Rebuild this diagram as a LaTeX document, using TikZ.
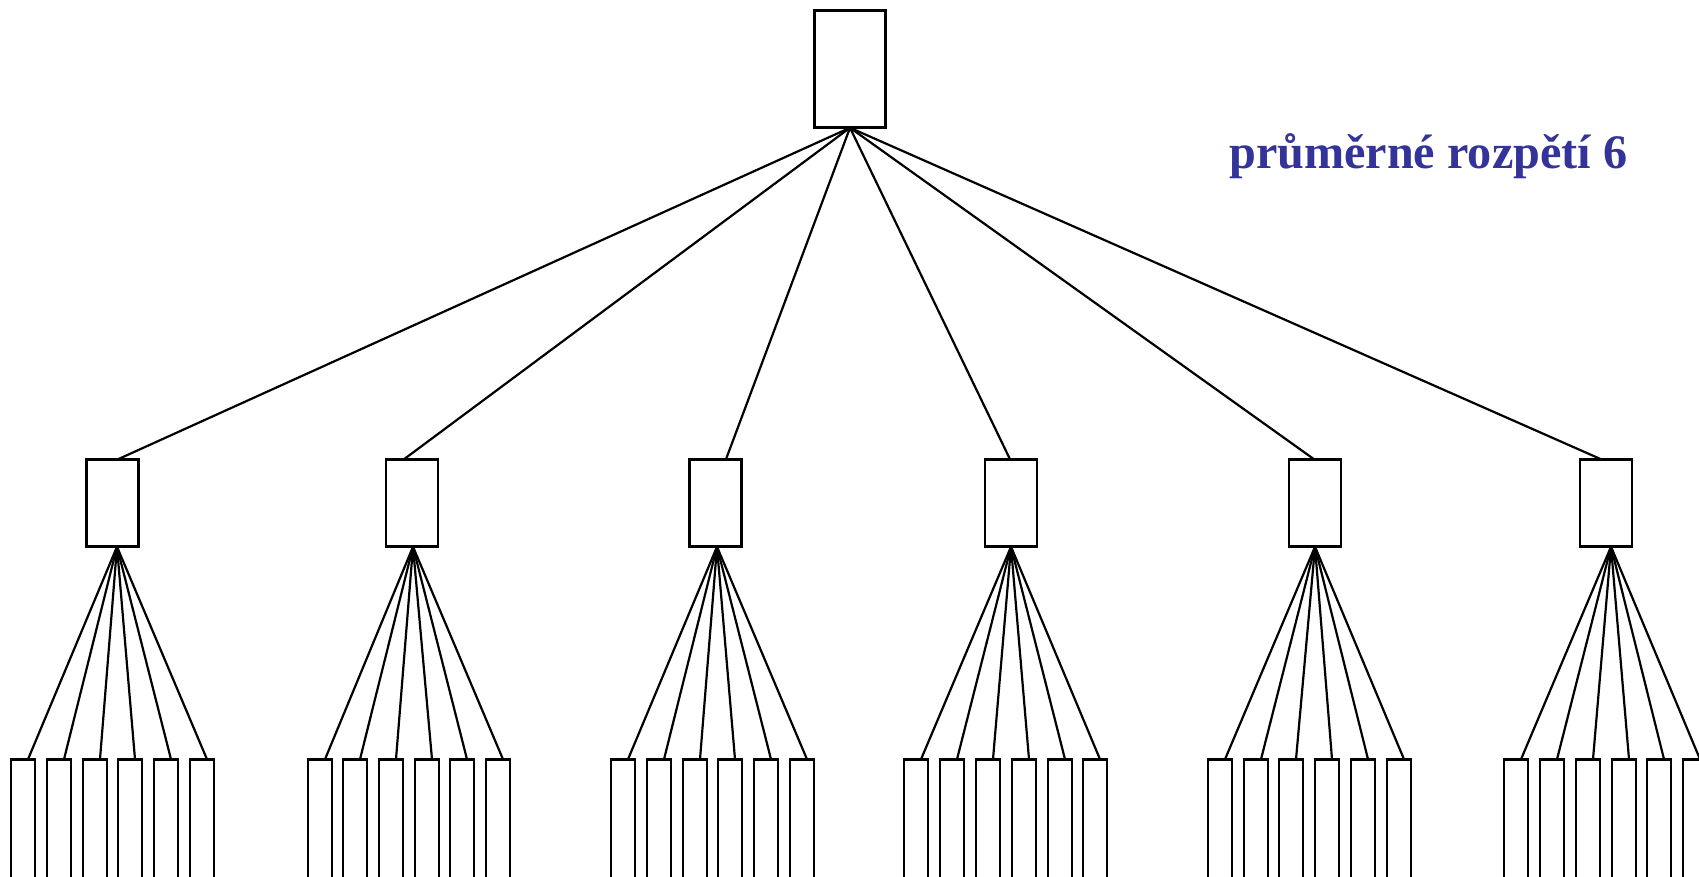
\documentclass[tikz,border=0pt]{standalone}
\usepackage{fontspec}
\setmainfont{Liberation Serif}
\definecolor{txtblue}{RGB}{51,51,153}
\begin{document}
\begin{tikzpicture}[x=1pt,y=-1pt,
  box/.style={draw=black,line width=2.6pt,rectangle,inner sep=0pt,outer sep=0pt,fill=white},
  rootbox/.style={box,minimum width=71.5pt,minimum height=117.5pt},
  midbox/.style={box,minimum width=52pt,minimum height=87.5pt},
  leafbox/.style={box,line width=2.4pt,minimum width=23.5pt,minimum height=160pt},
  link/.style={draw=black,line width=2.2pt},
  label/.style={text=txtblue,font=\bfseries\fontsize{48.2}{58}\selectfont,inner sep=0pt,anchor=base west}]
\useasboundingbox (0,0) rectangle (1699,877);
\clip (0,0) rectangle (1699,877);
\fill[white] (0,0) rectangle (1699,877);

\node[rootbox] (root) at (850,69) {};
\node[label] (title) at (1229,168.5) {průměrné rozpětí 6};

\foreach \i/\cx in {1/112.5, 2/412, 3/715.5, 4/1011, 5/1315, 6/1606}
  \node[midbox] (m\i) at (\cx,503) {};

\foreach \i/\a/\b/\c/\d/\e/\f in {
   1/10/46/82/117/153/189,
   2/307/342/378/414/449/485,
   3/610/646/682/717/753/789,
   4/903/939/975/1011/1047/1082,
   5/1207/1243/1278/1314/1350/1386,
   6/1503/1539/1575/1611/1646/1682}{
  \foreach \j/\lx in {1/\a,2/\b,3/\c,4/\d,5/\e,6/\f}
    \node[leafbox] (l\i-\j) at (\lx+13,839.3) {};
}

\foreach \i/\tp in {1/5.5, 2/-8, 3/10.5, 4/-1, 5/-1, 6/-5}
  \draw[link] (root.south) -- ([xshift=\tp pt]m\i.north);

\foreach \i/\ap in {1/4.5, 2/1, 3/1.5, 4/0, 5/0, 6/5}
  \foreach \j in {1,...,6}
    \draw[link] ([xshift=\ap pt]m\i.south) -- ([xshift=5pt]l\i-\j.north);
\end{tikzpicture}
\end{document}
